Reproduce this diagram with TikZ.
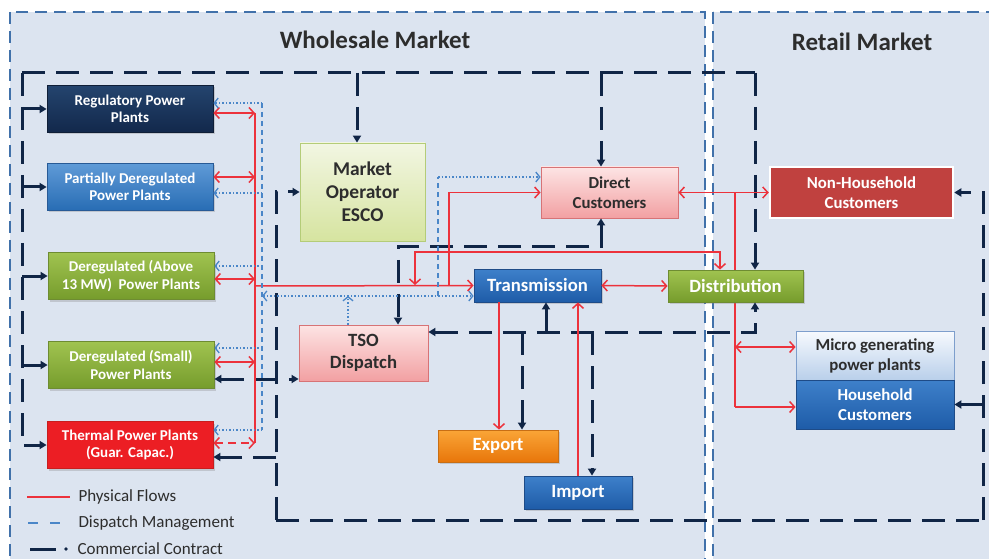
\documentclass[tikz,border=0pt]{standalone}
\usepackage{fontspec}
\setmainfont{Carlito}
\usetikzlibrary{arrows.meta,calc,shadows}
\definecolor{panelfill}{RGB}{220,228,240}
\definecolor{panelline}{RGB}{65,113,170}
\definecolor{navy}{RGB}{16,37,70}
\definecolor{phred}{RGB}{236,50,60}
\definecolor{dispblue}{RGB}{74,134,200}
\definecolor{txtgray}{RGB}{45,45,45}
\pgfdeclarelayer{panel}\pgfdeclarelayer{back}
\pgfsetlayers{panel,back,main}
\tikzset{
  box/.style={rectangle, draw, align=center, font=\bfseries, inner sep=1pt, text=white, line width=0.8pt},
  shad/.style={drop shadow={opacity=0.3, shadow xshift=1.5pt, shadow yshift=-2pt}},
  plant/.style={box, shad, minimum width=166pt, minimum height=47pt, font=\bfseries\fontsize{15}{17.5}\selectfont},
  bigtxt/.style={font=\bfseries\fontsize{18.7}{22}\selectfont},
  motxt/.style={font=\bfseries\fontsize{19.5}{23}\selectfont},
  midtxt/.style={font=\bfseries\fontsize{16.8}{20}\selectfont},
  navybox/.style={top color={rgb,255:red,36;green,68;blue,110}, bottom color={rgb,255:red,18;green,40;blue,75}, draw={rgb,255:red,15;green,30;blue,55}},
  lbluebox/.style={top color={rgb,255:red,95;green,155;blue,215}, bottom color={rgb,255:red,40;green,108;blue,180}, draw={rgb,255:red,40;green,90;blue,150}},
  greenbox/.style={top color={rgb,255:red,160;green,195;blue,80}, bottom color={rgb,255:red,118;green,156;blue,44}, draw={rgb,255:red,110;green,140;blue,50}},
  redbox/.style={fill={rgb,255:red,236;green,30;blue,36}, draw={rgb,255:red,200;green,30;blue,30}},
  pinkbox/.style={top color={rgb,255:red,253;green,228;blue,228}, bottom color={rgb,255:red,242;green,160;blue,162}, draw={rgb,255:red,215;green,115;blue,118}, text=txtgray},
  mobox/.style={top color={rgb,255:red,242;green,246;blue,226}, bottom color={rgb,255:red,214;green,228;blue,160}, draw={rgb,255:red,180;green,204;blue,120}, text=txtgray},
  tbluebox/.style={top color={rgb,255:red,62;green,128;blue,202}, bottom color={rgb,255:red,30;green,92;blue,168}, draw={rgb,255:red,30;green,75;blue,135}},
  orangebox/.style={top color={rgb,255:red,250;green,165;blue,55}, bottom color={rgb,255:red,232;green,118;blue,10}, draw={rgb,255:red,200;green,110;blue,20}},
  phys/.style={draw=phred, line width=1.5pt},
  ptip/.tip={Straight Barb[length=5pt,width=11pt,line width=1.5pt]},
  comm/.style={draw=navy, line width=3pt, dash pattern=on 23pt off 11pt},
  ctip/.tip={Triangle[length=7pt,width=8pt]},
  dispdash/.style={draw=dispblue, line width=1.4pt, dash pattern=on 5pt off 4pt},
  dispdot/.style={draw=dispblue, line width=1.3pt, dash pattern=on 1.5pt off 2pt},
  dtip/.tip={Straight Barb[length=4pt,width=10pt,line width=1.3pt]},
  legtxt/.style={anchor=west, text=txtgray, font=\fontsize{17}{20}\selectfont},
}
\begin{document}
\begin{tikzpicture}[x=1pt,y=-1pt]
\useasboundingbox (0,0) rectangle (989,559);
% panels
\begin{pgfonlayer}{panel}
\fill[white] (0,0) rectangle (989,559);
\draw[panelline, line width=2.5pt, dash pattern=on 12pt off 7pt, fill=panelfill] (10,12) rectangle (705,580);
\draw[panelline, line width=2.5pt, dash pattern=on 12pt off 7pt, fill=panelfill] (713,12) rectangle (1000,580);
\end{pgfonlayer}
\node[font=\bfseries\fontsize{25}{29}\selectfont, text=txtgray] (wm) at (375,40) {Wholesale Market};
\node[font=\bfseries\fontsize{25}{29}\selectfont, text=txtgray] (rm) at (862,42) {Retail Market};

% nodes
\node[plant, navybox] (reg) at (130,109) {Regulatory Power\\Plants};
\node[plant, lbluebox] (part) at (130,187) {Partially Deregulated\\Power Plants};
\node[plant, greenbox] (dabove) at (131,276) {Deregulated (Above\\13 MW)\ \ Power Plants};
\node[plant, greenbox] (dsmall) at (131,365) {Deregulated (Small)\\Power Plants};
\node[plant, redbox] (therm) at (130,445) {Thermal Power Plants\\(Guar. Capac.)};
\node[box, mobox, motxt, minimum width=125pt, minimum height=98pt] (mo) at (362.5,192) {Market\\Operator\\ESCO};
\node[box, pinkbox, midtxt, minimum width=137pt, minimum height=51pt] (dc) at (609.5,192.5) {Direct\\Customers};
\node[box, shad, tbluebox, bigtxt, minimum width=127pt, minimum height=33pt] (trans) at (537.5,285.5) {Transmission};
\node[box, shad, greenbox, bigtxt, minimum width=135pt, minimum height=32pt] (dist) at (735.5,286) {Distribution};
\node[box, pinkbox, bigtxt, minimum width=129pt, minimum height=56pt] (tso) at (363.5,353) {TSO\\Dispatch};
\node[box, shad, orangebox, bigtxt, minimum width=120pt, minimum height=32pt] (exp) at (498,446) {Export};
\node[box, shad, tbluebox, bigtxt, minimum width=108pt, minimum height=33pt] (imp) at (578,492.5) {Import};
\node[box, midtxt, fill={rgb,255:red,192;green,65;blue,63}, draw=white, line width=2.5pt, minimum width=183pt, minimum height=51pt] (nh) at (861.5,192.5) {Non-Household\\Customers};
\node[box, midtxt, top color={rgb,255:red,247;green,250;blue,254}, bottom color={rgb,255:red,185;green,207;blue,234}, draw={rgb,255:red,125;green,158;blue,204}, text=txtgray, minimum width=158pt, minimum height=49pt] (micro) at (875,355.5) {Micro generating\\power plants};
\node[box, midtxt, tbluebox, minimum width=158pt, minimum height=49pt] (hh) at (875,404.5) {Household\\Customers};

% commercial contracts (navy)
\coordinate (cTL) at (22,73);
\coordinate (cTR) at (755,73);
\coordinate (cBL) at (276,520);
\coordinate (cBR) at (983,520);
\draw[comm] (cTL) -- (cTR);
\draw[comm,-ctip] (cTR) -- (cTR |- dist.north);
\draw[comm,-ctip] (cTL) |- (therm.west);
\draw[comm,-ctip] (cTL |- reg.west) -- (reg.west);
\draw[comm,-ctip] (cTL |- part.west) -- (part.west);
\draw[comm,-ctip] (cTL |- dabove.west) -- (dabove.west);
\draw[comm,-ctip] (cTL |- dsmall.west) -- (dsmall.west);
\draw[comm,-ctip] (cTL -| 357,0) -- (mo.north -| 357,0);
\draw[comm,-ctip] (cTL -| 601,0) -- (dc.north -| 601,0);
\draw[comm,-ctip] (cBL) |- (mo.west);
\draw[comm] (cBL) -- (cBR);
\draw[comm,-ctip] (cBR) |- (nh.east);
\draw[comm,-ctip] (cBR |- hh.east) -- (hh.east);
\draw[comm,ctip-ctip] (dsmall.east |- 0,379) -- (tso.west |- 0,379);
\draw[comm,-ctip] (cBL |- 0,457) -- (therm.east |- 0,457);
\draw[comm,ctip-ctip] (dc.south -| 601,0) -- (601,247) -- (398,247) -- (tso.north -| 398,0);
\coordinate (cTD) at (755,332);
\draw[comm,ctip-ctip] (tso.east |- cTD) -- (cTD) -- (dist.south -| cTD);
\draw[comm,-ctip] (546,332) -- (trans.south -| 546,0);
\draw[comm,-ctip] (522,332) -- (exp.north -| 522,0);
\draw[comm,-ctip] (592,332) -- (imp.north -| 592,0);

% physical flows (red)
\coordinate (rbT) at (255,113);
\coordinate (rbB) at (255,443);
\draw[phys] (rbT) -- (rbB);
\draw[phys,ptip-ptip] (reg.east |- rbT) -- (rbT);
\draw[phys,ptip-ptip] (part.east |- 0,177) -- (255,177);
\draw[phys,ptip-ptip] (dabove.east |- 0,279) -- (255,279);
\draw[phys,ptip-ptip] (dsmall.east |- 0,362) -- (255,362);
\draw[phys,ptip-ptip,dash pattern=on 8pt off 5pt] (therm.east |- rbB) -- (rbB);
\draw[phys,-ptip] (255,286) -- (trans.west);
\draw[phys,-ptip] (449,286) |- (dc.west);
\draw[phys,ptip-ptip] (415,285) |- (720,252) -- (dist.north -| 720,0);
\draw[phys,ptip-ptip] (trans.east) -- (dist.west);
\draw[phys,ptip-ptip] (dc.east) -- (nh.west);
\begin{pgfonlayer}{back}
\draw[phys] (735,192.5) -- (735,407);
\end{pgfonlayer}
\draw[phys,ptip-ptip] (735,347) -- (micro.west |- 0,347);
\draw[phys,-ptip] (735,407) -- (hh.west |- 0,407);
\draw[phys,-ptip] (trans.south -| 499,0) -- (exp.north -| 499,0);
\draw[phys,-ptip] (imp.north -| 578,0) -- (trans.south -| 578,0);

% dispatch management (blue)
\coordinate (bbT) at (262,103);
\coordinate (bbB) at (262,430);
\draw[dispdash] (bbT) -- (bbB);
\draw[dispdot,-dtip] (bbT) -- (reg.east |- bbT);
\draw[dispdot,-dtip] (262,193) -- (part.east |- 0,193);
\draw[dispdot,-dtip] (262,266) -- (dabove.east |- 0,266);
\draw[dispdot,-dtip] (262,348) -- (dsmall.east |- 0,348);
\draw[dispdot,-dtip] (bbB) -- (therm.east |- bbB);
\draw[dispdot,dtip-dtip] (262,296) -- (trans.west |- 0,296);
\draw[dispdot,-dtip] (tso.north -| 348,0) -- (348,296);
\draw[dispdash] (438,296) -- (438,177);
\draw[dispdot,-dtip] (438,177) -- (dc.west |- 0,177);

% legend
\coordinate (l1a) at (27,497); \coordinate (l1b) at (70,497);
\draw[phys,line width=1.2pt] (l1a) -- (l1b);
\node[legtxt] (lt1) at (75,497) {Physical Flows};
\coordinate (l2a) at (28,523); \coordinate (l2b) at (64,523);
\draw[draw=dispblue, line width=2.2pt, dash pattern=on 10pt off 12pt] (l2a) -- (l2b);
\node[legtxt] (lt2) at (75,523) {Dispatch Management};
\coordinate (l3a) at (30,549); \coordinate (l3b) at (56,549);
\draw[draw=navy, line width=3pt] (l3a) -- (l3b);
\fill[navy] (66,549) circle (1.8pt);
\node[legtxt] (lt3) at (74,549) {Commercial Contract};
\end{tikzpicture}
\end{document}
